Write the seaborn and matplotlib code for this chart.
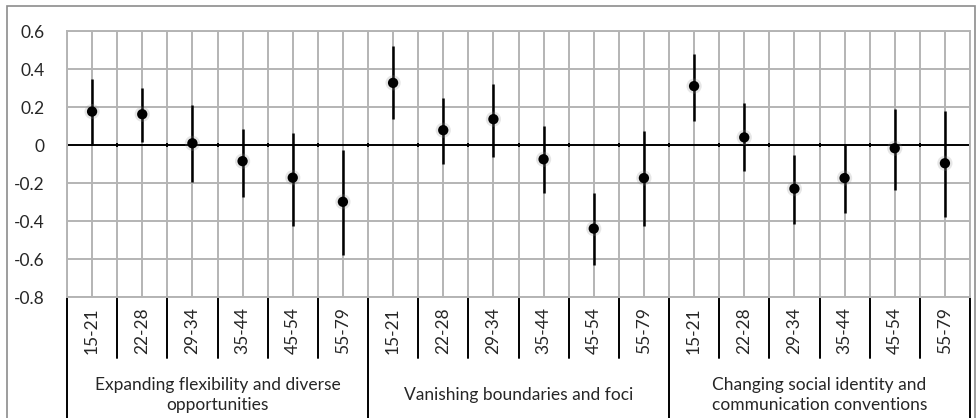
import numpy as np
import pandas as pd
import matplotlib.pyplot as plt
import seaborn as sns
from matplotlib.lines import Line2D
from matplotlib.patches import Rectangle

# values
groups = ["Expanding flexibility and diverse\nopportunities",
          "Vanishing boundaries and foci",
          "Changing social identity and\ncommunication conventions"]
ages = ["15-21", "22-28", "29-34", "35-44", "45-54", "55-79"]

point = [0.176, 0.162, 0.009, -0.085, -0.172, -0.299,
         0.327, 0.078, 0.136, -0.075, -0.440, -0.174,
         0.310, 0.040, -0.230, -0.174, -0.017, -0.096]
upper = [0.350, 0.300, 0.209, 0.083, 0.061, -0.026,
         0.523, 0.245, 0.323, 0.099, -0.252, 0.075,
         0.477, 0.221, -0.050, 0.005, 0.188, 0.179]
lower = [0.000, 0.017, -0.195, -0.273, -0.424, -0.577,
         0.136, -0.099, -0.061, -0.252, -0.633, -0.426,
         0.127, -0.137, -0.414, -0.360, -0.235, -0.377]

yticks = [0.6, 0.4, 0.2, 0, -0.2, -0.4, -0.6, -0.8]

df = pd.DataFrame({
    "group": np.repeat(range(len(groups)), len(ages)),
    "age": ages * len(groups),
    "point": point,
    "upper": upper,
    "lower": lower,
})
df["x"] = np.arange(len(df))

sns.set_theme(style="white")
plt.rcParams["font.family"] = ["Lato", "DejaVu Sans"]
text_col = "#262626"
grid_col = "#b4b4b4"
fs = 12.5

fig = plt.figure(figsize=(9.77, 4.18), dpi=100)
ax = fig.add_axes([67 / 977, 1 - 297 / 418, (970 - 67) / 977, (297 - 31) / 418])

n = len(df)
ax.set_xlim(-0.5, n - 0.5)
ax.set_ylim(-0.8, 0.6)

# grid: horizontal at ticks, vertical at centres and boundaries
for y in yticks:
    if y != 0:
        ax.axhline(y, color=grid_col, lw=1.4, zorder=0)
for xv in np.arange(-0.5, n, 0.5):
    ax.axvline(xv, color=grid_col, lw=1.4, zorder=0)
for s in ax.spines.values():
    s.set_color(grid_col)
    s.set_linewidth(1.4)

# zero axis with small tick marks at category boundaries
ax.axhline(0, color="black", lw=1.4, zorder=1)
ax.vlines(np.arange(-0.5, n, 1.0), -0.012, 0.012, color="black", lw=1.4, zorder=1)

# error bars
ax.vlines(df["x"], df["lower"], df["upper"], color="black", lw=1.8, zorder=2)

# points with soft shadow
sns.scatterplot(data=df, x="x", y="point", ax=ax, s=120, color="#909090",
                alpha=0.22, edgecolor="none", legend=False, zorder=3)
sns.scatterplot(data=df, x="x", y="point", ax=ax, s=55, color="black",
                edgecolor="none", legend=False, zorder=4)

ax.set_xticks([])
ax.set_yticks(yticks)
ax.set_yticklabels([("%g" % v) for v in yticks], fontsize=fs, color=text_col)
ax.tick_params(axis="y", length=0, pad=16)
ax.set_xlabel("")
ax.set_ylabel("")

# category labels below the axes
trans = ax.get_xaxis_transform()
y_sep = -(358 - 297) / 266
for xi, lab in zip(df["x"], df["age"]):
    ax.text(xi, -(331 - 297) / 266, lab, rotation=90, ha="center", va="center",
            fontsize=fs, color=text_col, transform=trans)
for b in np.arange(-0.5, n, 1.0):
    if (b + 0.5) % len(ages) == 0:
        ymin = -(418 - 297) / 266
    else:
        ymin = y_sep
    ax.add_line(Line2D([b, b], [0, ymin], color="black", lw=1.4,
                       transform=trans, clip_on=False))
for gi, g in enumerate(groups):
    xc = gi * len(ages) + (len(ages) - 1) / 2
    ax.text(xc, -(395 - 297) / 266, g, ha="center", va="center",
            fontsize=fs, color=text_col, linespacing=1.25, transform=trans)

# outer chart border
fig.patches.append(Rectangle((7 / 977, -0.05), (975 - 7) / 977, 1.05 - 6 / 418,
                             transform=fig.transFigure, fill=False,
                             edgecolor="#8c8c8c", lw=1.2))

fig.savefig("out.png", dpi=100)
